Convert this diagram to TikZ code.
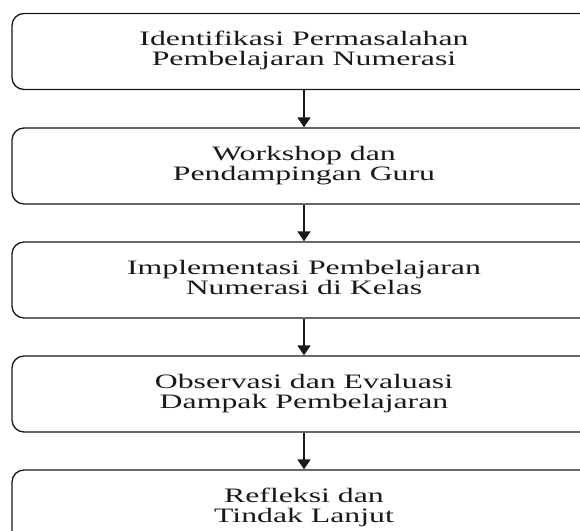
\documentclass[tikz,border=0pt]{standalone}
\usepackage{fontspec}
\setmainfont{Liberation Serif}
\usetikzlibrary{arrows.meta}
\newcommand{\fltext}[2]{\scalebox{1.55}[1]{\fontsize{20.5}{18.8}\selectfont\begin{tabular}{@{}c@{}}#1\\#2\end{tabular}}}
\begin{document}
\begin{tikzpicture}[x=1pt,y=-1pt,
  stepbox/.style={draw=black!90, line width=1.3pt, rounded corners=12pt,
    minimum width=584pt, minimum height=76pt, inner sep=0pt, text=black!90},
  flow/.style={draw=black!90, line width=1.6pt, -{Triangle[width=13pt,length=10pt]}}]
\useasboundingbox (0,0) rectangle (580,530);
\clip (0,0) rectangle (580,530);
\node[stepbox] (b1) at (304,51.5) {\fltext{Identifikasi Permasalahan}{Pembelajaran Numerasi}};
\node[stepbox] (b2) at (304,166) {\fltext{Workshop dan}{Pendampingan Guru}};
\node[stepbox] (b3) at (304,280) {\fltext{Implementasi Pembelajaran}{Numerasi di Kelas}};
\node[stepbox] (b4) at (304,394) {\fltext{Observasi dan Evaluasi}{Dampak Pembelajaran}};
\node[stepbox] (b5) at (304,508) {\fltext{Refleksi dan}{Tindak Lanjut}};
\draw[flow] (b1) -- (b2);
\draw[flow] (b2) -- (b3);
\draw[flow] (b3) -- (b4);
\draw[flow] (b4) -- (b5);
\end{tikzpicture}
\end{document}
